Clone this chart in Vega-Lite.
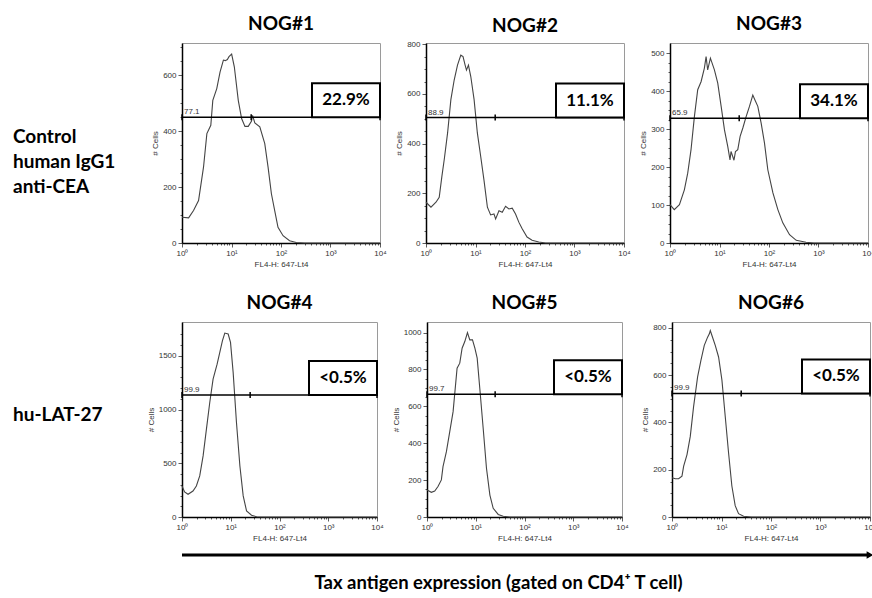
{
  "$schema": "https://vega.github.io/schema/vega-lite/v6.json",
  "background": "white",
  "padding": {"left": 13, "top": 14, "right": 0, "bottom": 0},
  "config": {
    "font": "Liberation Sans",
    "view": {"stroke": "#9a9a9a", "strokeWidth": 1},
    "axis": {"domainColor": "#000", "domainWidth": 1.5, "tickColor": "#333", "tickWidth": 0.8, "labelColor": "#333", "labelFont": "Liberation Sans", "labelFontSize": 8, "titleFont": "Liberation Sans", "titleFontSize": 8, "titleFontWeight": "normal", "titleColor": "#333", "grid": false, "labelOverlap": false, "labelFlush": false, "labelPadding": 2},
    "axisX": {"titlePadding": 3},
    "axisY": {"titlePadding": 3},
    "title": {"font": "Lato", "fontSize": 19, "fontWeight": "bold", "color": "#000", "offset": 9, "anchor": "middle"}
  },
  "datasets": {
    "hist": [
      {"panel":"NOG#1","fl4":1,"cells":92},{"panel":"NOG#1","fl4":1.36,"cells":90},{"panel":"NOG#1","fl4":1.71,"cells":116},{"panel":"NOG#1","fl4":2.16,"cells":152},{"panel":"NOG#1","fl4":2.72,"cells":271},{"panel":"NOG#1","fl4":3.18,"cells":391},{"panel":"NOG#1","fl4":3.82,"cells":421},{"panel":"NOG#1","fl4":4.19,"cells":510},{"panel":"NOG#1","fl4":5.04,"cells":552},{"panel":"NOG#1","fl4":5.88,"cells":612},{"panel":"NOG#1","fl4":6.86,"cells":654},{"panel":"NOG#1","fl4":7.5,"cells":652},{"panel":"NOG#1","fl4":8.25,"cells":656},{"panel":"NOG#1","fl4":8.9,"cells":666},{"panel":"NOG#1","fl4":10.07,"cells":675},{"panel":"NOG#1","fl4":11.4,"cells":630},{"panel":"NOG#1","fl4":13.7,"cells":510},{"panel":"NOG#1","fl4":16,"cells":445},{"panel":"NOG#1","fl4":18.7,"cells":417},{"panel":"NOG#1","fl4":21.8,"cells":417},{"panel":"NOG#1","fl4":25.4,"cells":436},{"panel":"NOG#1","fl4":26.6,"cells":456},{"panel":"NOG#1","fl4":29.6,"cells":429},{"panel":"NOG#1","fl4":37.3,"cells":415},{"panel":"NOG#1","fl4":47,"cells":355},{"panel":"NOG#1","fl4":54.8,"cells":271},{"panel":"NOG#1","fl4":64,"cells":176},{"panel":"NOG#1","fl4":74.6,"cells":116},{"panel":"NOG#1","fl4":87,"cells":56},{"panel":"NOG#1","fl4":110,"cells":26},{"panel":"NOG#1","fl4":149,"cells":8},{"panel":"NOG#1","fl4":203,"cells":2},{"panel":"NOG#1","fl4":300,"cells":0},{"panel":"NOG#1","fl4":10000,"cells":0},
      {"panel":"NOG#2","fl4":1,"cells":164},{"panel":"NOG#2","fl4":1.26,"cells":144},{"panel":"NOG#2","fl4":1.59,"cells":164},{"panel":"NOG#2","fl4":1.85,"cells":184},{"panel":"NOG#2","fl4":2.1,"cells":270},{"panel":"NOG#2","fl4":2.34,"cells":337},{"panel":"NOG#2","fl4":2.73,"cells":443},{"panel":"NOG#2","fl4":3.18,"cells":577},{"panel":"NOG#2","fl4":3.71,"cells":656},{"panel":"NOG#2","fl4":4.33,"cells":716},{"panel":"NOG#2","fl4":5.05,"cells":756},{"panel":"NOG#2","fl4":5.6,"cells":750},{"panel":"NOG#2","fl4":6.17,"cells":716},{"panel":"NOG#2","fl4":6.57,"cells":696},{"panel":"NOG#2","fl4":7.2,"cells":716},{"panel":"NOG#2","fl4":8.03,"cells":670},{"panel":"NOG#2","fl4":9.37,"cells":577},{"panel":"NOG#2","fl4":10.9,"cells":443},{"panel":"NOG#2","fl4":12.7,"cells":350},{"panel":"NOG#2","fl4":14.9,"cells":250},{"panel":"NOG#2","fl4":17.4,"cells":144},{"panel":"NOG#2","fl4":20.2,"cells":113},{"panel":"NOG#2","fl4":23.6,"cells":117},{"panel":"NOG#2","fl4":25.5,"cells":97},{"panel":"NOG#2","fl4":29.8,"cells":130},{"panel":"NOG#2","fl4":34.7,"cells":124},{"panel":"NOG#2","fl4":40.5,"cells":148},{"panel":"NOG#2","fl4":47.3,"cells":137},{"panel":"NOG#2","fl4":55.2,"cells":140},{"panel":"NOG#2","fl4":64.4,"cells":117},{"panel":"NOG#2","fl4":75,"cells":84},{"panel":"NOG#2","fl4":87.7,"cells":57},{"panel":"NOG#2","fl4":110,"cells":24},{"panel":"NOG#2","fl4":139,"cells":11},{"panel":"NOG#2","fl4":190,"cells":4},{"panel":"NOG#2","fl4":260,"cells":0},{"panel":"NOG#2","fl4":10000,"cells":0},
      {"panel":"NOG#3","fl4":1,"cells":101},{"panel":"NOG#3","fl4":1.22,"cells":88},{"panel":"NOG#3","fl4":1.55,"cells":101},{"panel":"NOG#3","fl4":1.95,"cells":140},{"panel":"NOG#3","fl4":2.28,"cells":184},{"panel":"NOG#3","fl4":2.66,"cells":246},{"panel":"NOG#3","fl4":3.11,"cells":333},{"panel":"NOG#3","fl4":3.63,"cells":404},{"panel":"NOG#3","fl4":4.24,"cells":425},{"panel":"NOG#3","fl4":4.95,"cells":461},{"panel":"NOG#3","fl4":5.36,"cells":491},{"panel":"NOG#3","fl4":5.77,"cells":456},{"panel":"NOG#3","fl4":6.55,"cells":487},{"panel":"NOG#3","fl4":7.89,"cells":456},{"panel":"NOG#3","fl4":9.22,"cells":421},{"panel":"NOG#3","fl4":10.8,"cells":360},{"panel":"NOG#3","fl4":12.6,"cells":298},{"panel":"NOG#3","fl4":14.7,"cells":254},{"panel":"NOG#3","fl4":16.3,"cells":219},{"panel":"NOG#3","fl4":17.1,"cells":241},{"panel":"NOG#3","fl4":18.5,"cells":228},{"panel":"NOG#3","fl4":19.6,"cells":218},{"panel":"NOG#3","fl4":21,"cells":241},{"panel":"NOG#3","fl4":23.4,"cells":246},{"panel":"NOG#3","fl4":26.1,"cells":281},{"panel":"NOG#3","fl4":29.6,"cells":303},{"panel":"NOG#3","fl4":34.5,"cells":333},{"panel":"NOG#3","fl4":40.3,"cells":360},{"panel":"NOG#3","fl4":47.1,"cells":390},{"panel":"NOG#3","fl4":52,"cells":377},{"panel":"NOG#3","fl4":59.4,"cells":360},{"panel":"NOG#3","fl4":69.4,"cells":316},{"panel":"NOG#3","fl4":81.1,"cells":263},{"panel":"NOG#3","fl4":94.6,"cells":193},{"panel":"NOG#3","fl4":120,"cells":132},{"panel":"NOG#3","fl4":151,"cells":88},{"panel":"NOG#3","fl4":190,"cells":53},{"panel":"NOG#3","fl4":260,"cells":22},{"panel":"NOG#3","fl4":355,"cells":7},{"panel":"NOG#3","fl4":560,"cells":2},{"panel":"NOG#3","fl4":800,"cells":0},{"panel":"NOG#3","fl4":10000,"cells":0},
      {"panel":"NOG#4","fl4":1,"cells":289},{"panel":"NOG#4","fl4":1.13,"cells":233},{"panel":"NOG#4","fl4":1.33,"cells":211},{"panel":"NOG#4","fl4":1.68,"cells":242},{"panel":"NOG#4","fl4":1.97,"cells":289},{"panel":"NOG#4","fl4":2.31,"cells":382},{"panel":"NOG#4","fl4":2.71,"cells":568},{"panel":"NOG#4","fl4":3.17,"cells":817},{"panel":"NOG#4","fl4":3.71,"cells":1065},{"panel":"NOG#4","fl4":4.34,"cells":1283},{"panel":"NOG#4","fl4":5.25,"cells":1422},{"panel":"NOG#4","fl4":5.96,"cells":1531},{"panel":"NOG#4","fl4":6.76,"cells":1640},{"panel":"NOG#4","fl4":7.55,"cells":1711},{"panel":"NOG#4","fl4":8.85,"cells":1702},{"panel":"NOG#4","fl4":9.89,"cells":1624},{"panel":"NOG#4","fl4":11.2,"cells":1345},{"panel":"NOG#4","fl4":13.1,"cells":879},{"panel":"NOG#4","fl4":15.4,"cells":475},{"panel":"NOG#4","fl4":18,"cells":196},{"panel":"NOG#4","fl4":21.1,"cells":56},{"panel":"NOG#4","fl4":26.7,"cells":16},{"panel":"NOG#4","fl4":34,"cells":3},{"panel":"NOG#4","fl4":50,"cells":0},{"panel":"NOG#4","fl4":10000,"cells":0},
      {"panel":"NOG#5","fl4":1,"cells":146},{"panel":"NOG#5","fl4":1.23,"cells":134},{"panel":"NOG#5","fl4":1.44,"cells":141},{"panel":"NOG#5","fl4":1.68,"cells":165},{"panel":"NOG#5","fl4":1.97,"cells":201},{"panel":"NOG#5","fl4":2.13,"cells":273},{"panel":"NOG#5","fl4":2.5,"cells":354},{"panel":"NOG#5","fl4":2.93,"cells":463},{"panel":"NOG#5","fl4":3.43,"cells":571},{"panel":"NOG#5","fl4":4.14,"cells":807},{"panel":"NOG#5","fl4":4.7,"cells":834},{"panel":"NOG#5","fl4":5.25,"cells":915},{"panel":"NOG#5","fl4":5.96,"cells":951},{"panel":"NOG#5","fl4":6.76,"cells":1000},{"panel":"NOG#5","fl4":7.55,"cells":960},{"panel":"NOG#5","fl4":8.57,"cells":960},{"panel":"NOG#5","fl4":9.6,"cells":915},{"panel":"NOG#5","fl4":10.7,"cells":861},{"panel":"NOG#5","fl4":12.1,"cells":698},{"panel":"NOG#5","fl4":14.2,"cells":481},{"panel":"NOG#5","fl4":16.6,"cells":264},{"panel":"NOG#5","fl4":19.5,"cells":119},{"panel":"NOG#5","fl4":22.8,"cells":47},{"panel":"NOG#5","fl4":28.9,"cells":14},{"panel":"NOG#5","fl4":36.6,"cells":4},{"panel":"NOG#5","fl4":50,"cells":0},{"panel":"NOG#5","fl4":10000,"cells":0},
      {"panel":"NOG#6","fl4":1,"cells":166},{"panel":"NOG#6","fl4":1.17,"cells":162},{"panel":"NOG#6","fl4":1.36,"cells":162},{"panel":"NOG#6","fl4":1.59,"cells":173},{"panel":"NOG#6","fl4":1.72,"cells":215},{"panel":"NOG#6","fl4":2.01,"cells":264},{"panel":"NOG#6","fl4":2.34,"cells":341},{"panel":"NOG#6","fl4":2.73,"cells":467},{"panel":"NOG#6","fl4":3.29,"cells":593},{"panel":"NOG#6","fl4":3.84,"cells":663},{"panel":"NOG#6","fl4":4.49,"cells":726},{"panel":"NOG#6","fl4":5.24,"cells":761},{"panel":"NOG#6","fl4":5.68,"cells":775},{"panel":"NOG#6","fl4":5.94,"cells":789},{"panel":"NOG#6","fl4":6.41,"cells":768},{"panel":"NOG#6","fl4":7.48,"cells":726},{"panel":"NOG#6","fl4":8.73,"cells":677},{"panel":"NOG#6","fl4":10.2,"cells":579},{"panel":"NOG#6","fl4":11.9,"cells":425},{"panel":"NOG#6","fl4":13.9,"cells":271},{"panel":"NOG#6","fl4":16.2,"cells":131},{"panel":"NOG#6","fl4":18.9,"cells":48},{"panel":"NOG#6","fl4":22.1,"cells":14},{"panel":"NOG#6","fl4":28,"cells":3},{"panel":"NOG#6","fl4":40,"cells":0},{"panel":"NOG#6","fl4":10000,"cells":0}
    ],
    "gates": [
      {"panel":"NOG#1","cells":450,"fl4":1,"split":25,"fl4_end":10000,"inside":"77.1","outside":"22.9%"},
      {"panel":"NOG#2","cells":505,"fl4":1,"split":25,"fl4_end":10000,"inside":"88.9","outside":"11.1%"},
      {"panel":"NOG#3","cells":329,"fl4":1,"split":25,"fl4_end":10000,"inside":"65.9","outside":"34.1%"},
      {"panel":"NOG#4","cells":1134,"fl4":1,"split":25,"fl4_end":10000,"inside":"99.9","outside":"<0.5%"},
      {"panel":"NOG#5","cells":665,"fl4":1,"split":25,"fl4_end":10000,"inside":"99.7","outside":"<0.5%"},
      {"panel":"NOG#6","cells":523,"fl4":1,"split":25,"fl4_end":10000,"inside":"99.9","outside":"<0.5%"}
    ]
  },
  "vconcat": [
    {
      "spacing": 24,
      "vconcat": [
        {
          "bounds": "flush",
          "spacing": 46,
          "hconcat": [
            {
              "width": 123, "height": 200, "view": {"stroke": null},
              "data": {"values": [{"label": "Control\nhuman IgG1\nanti-CEA"}]},
              "mark": {"type": "text", "align": "left", "baseline": "alphabetic", "lineBreak": "\n", "lineHeight": 25, "font": "Lato", "fontSize": 19, "fontWeight": "bold", "color": "#000"},
              "encoding": {
                "text": {"field": "label", "type": "nominal"},
                "x": {"datum": 0, "type": "quantitative", "scale": {"domain": [0, 1]}, "axis": null},
                "y": {"datum": 0.5, "type": "quantitative", "scale": {"domain": [0, 1]}, "axis": null}
              }
            },
            {
              "width": 198, "height": 200, "title": "NOG#1",
              "encoding": {
                "x": {"field": "fl4", "type": "quantitative", "scale": {"type": "log", "domain": [1, 10000], "nice": false},
                      "axis": {"title": "FL4-H: 647-Lt4", "labelOverlap": false, "values": [1,2,3,4,5,6,7,8,9,10,20,30,40,50,60,70,80,90,100,200,300,400,500,600,700,800,900,1000,2000,3000,4000,5000,6000,7000,8000,9000,10000],
                               "labelExpr": "datum.value == 1 ? '10⁰' : datum.value == 10 ? '10¹' : datum.value == 100 ? '10²' : datum.value == 1000 ? '10³' : datum.value == 10000 ? '10⁴' : ''",
                               "tickSize": {"condition": {"test": "indexof([1,10,100,1000,10000], datum.value) >= 0", "value": 4}, "value": 2}}},
                "y": {"field": "cells", "type": "quantitative", "scale": {"domain": [0, 715], "nice": false},
                      "axis": {"title": "# Cells", "format": "d", "labelOverlap": false, "values": [0,50,100,150,200,250,300,350,400,450,500,550,600,650,700],
                               "labelExpr": "datum.value % 200 == 0 ? datum.label : ''",
                               "tickSize": {"condition": {"test": "datum.value % 200 == 0", "value": 4}, "value": 2}}}
              },
              "layer": [
                {"data": {"name": "hist"}, "transform": [{"filter": "datum.panel === 'NOG#1'"}],
                 "mark": {"type": "line", "color": "#444", "strokeWidth": 1.1}},
                {"data": {"name": "gates"}, "transform": [{"filter": "datum.panel === 'NOG#1'"}],
                 "mark": {"type": "rule", "color": "#000", "strokeWidth": 1.5},
                 "encoding": {"x2": {"field": "fl4_end"}}},
                {"data": {"name": "gates"}, "transform": [{"filter": "datum.panel === 'NOG#1'"}, {"fold": ["fl4", "split", "fl4_end"], "as": ["edge", "fl4"]}],
                 "mark": {"type": "point", "shape": "M0,-1V1", "size": 36, "filled": false, "color": "#000", "strokeWidth": 1.5, "opacity": 1}},
                {"data": {"name": "gates"}, "transform": [{"filter": "datum.panel === 'NOG#1'"}],
                 "mark": {"type": "text", "align": "left", "baseline": "bottom", "dx": 2, "dy": -1, "fontSize": 8, "color": "#333"},
                 "encoding": {"text": {"field": "inside", "type": "nominal"}}},
                {"data": {"name": "gates"}, "transform": [{"filter": "datum.panel === 'NOG#1'"}, {"fold": ["fl4_end"], "as": ["edge", "fl4"]}],
                 "mark": {"type": "point", "shape": "M-2,-1H0V0H-2Z", "size": 4624, "filled": true, "fill": "#fff", "stroke": "#000", "strokeWidth": 2, "opacity": 1}},
                {"data": {"name": "gates"}, "transform": [{"filter": "datum.panel === 'NOG#1'"}, {"fold": ["fl4_end"], "as": ["edge", "fl4"]}],
                 "mark": {"type": "text", "align": "center", "baseline": "middle", "dx": -34, "dy": -17, "font": "Lato", "fontSize": 17, "fontWeight": "bold", "color": "#000"},
                 "encoding": {"text": {"field": "outside", "type": "nominal"}}}
              ]
            },
            {
              "width": 198, "height": 200, "title": {"text": "NOG#2", "offset": 4},
              "encoding": {
                "x": {"field": "fl4", "type": "quantitative", "scale": {"type": "log", "domain": [1, 10000], "nice": false},
                      "axis": {"title": "FL4-H: 647-Lt4", "labelOverlap": false, "values": [1,2,3,4,5,6,7,8,9,10,20,30,40,50,60,70,80,90,100,200,300,400,500,600,700,800,900,1000,2000,3000,4000,5000,6000,7000,8000,9000,10000],
                               "labelExpr": "datum.value == 1 ? '10⁰' : datum.value == 10 ? '10¹' : datum.value == 100 ? '10²' : datum.value == 1000 ? '10³' : datum.value == 10000 ? '10⁴' : ''",
                               "tickSize": {"condition": {"test": "indexof([1,10,100,1000,10000], datum.value) >= 0", "value": 4}, "value": 2}}},
                "y": {"field": "cells", "type": "quantitative", "scale": {"domain": [0, 805], "nice": false},
                      "axis": {"title": "# Cells", "format": "d", "labelOverlap": false, "values": [0,50,100,150,200,250,300,350,400,450,500,550,600,650,700,750,800],
                               "labelExpr": "datum.value % 200 == 0 ? datum.label : ''",
                               "tickSize": {"condition": {"test": "datum.value % 200 == 0", "value": 4}, "value": 2}}}
              },
              "layer": [
                {"data": {"name": "hist"}, "transform": [{"filter": "datum.panel === 'NOG#2'"}],
                 "mark": {"type": "line", "color": "#444", "strokeWidth": 1.1}},
                {"data": {"name": "gates"}, "transform": [{"filter": "datum.panel === 'NOG#2'"}],
                 "mark": {"type": "rule", "color": "#000", "strokeWidth": 1.5},
                 "encoding": {"x2": {"field": "fl4_end"}}},
                {"data": {"name": "gates"}, "transform": [{"filter": "datum.panel === 'NOG#2'"}, {"fold": ["fl4", "split", "fl4_end"], "as": ["edge", "fl4"]}],
                 "mark": {"type": "point", "shape": "M0,-1V1", "size": 36, "filled": false, "color": "#000", "strokeWidth": 1.5, "opacity": 1}},
                {"data": {"name": "gates"}, "transform": [{"filter": "datum.panel === 'NOG#2'"}],
                 "mark": {"type": "text", "align": "left", "baseline": "bottom", "dx": 2, "dy": -1, "fontSize": 8, "color": "#333"},
                 "encoding": {"text": {"field": "inside", "type": "nominal"}}},
                {"data": {"name": "gates"}, "transform": [{"filter": "datum.panel === 'NOG#2'"}, {"fold": ["fl4_end"], "as": ["edge", "fl4"]}],
                 "mark": {"type": "point", "shape": "M-2,-1H0V0H-2Z", "size": 4624, "filled": true, "fill": "#fff", "stroke": "#000", "strokeWidth": 2, "opacity": 1}},
                {"data": {"name": "gates"}, "transform": [{"filter": "datum.panel === 'NOG#2'"}, {"fold": ["fl4_end"], "as": ["edge", "fl4"]}],
                 "mark": {"type": "text", "align": "center", "baseline": "middle", "dx": -34, "dy": -17, "font": "Lato", "fontSize": 17, "fontWeight": "bold", "color": "#000"},
                 "encoding": {"text": {"field": "outside", "type": "nominal"}}}
              ]
            },
            {
              "width": 198, "height": 200, "title": "NOG#3",
              "encoding": {
                "x": {"field": "fl4", "type": "quantitative", "scale": {"type": "log", "domain": [1, 10000], "nice": false},
                      "axis": {"title": "FL4-H: 647-Lt4", "labelOverlap": false, "values": [1,2,3,4,5,6,7,8,9,10,20,30,40,50,60,70,80,90,100,200,300,400,500,600,700,800,900,1000,2000,3000,4000,5000,6000,7000,8000,9000,10000],
                               "labelExpr": "datum.value == 1 ? '10⁰' : datum.value == 10 ? '10¹' : datum.value == 100 ? '10²' : datum.value == 1000 ? '10³' : datum.value == 10000 ? '10⁴' : ''",
                               "tickSize": {"condition": {"test": "indexof([1,10,100,1000,10000], datum.value) >= 0", "value": 4}, "value": 2}}},
                "y": {"field": "cells", "type": "quantitative", "scale": {"domain": [0, 527], "nice": false},
                      "axis": {"title": "# Cells", "format": "d", "labelOverlap": false, "values": [0,25,50,75,100,125,150,175,200,225,250,275,300,325,350,375,400,425,450,475,500],
                               "labelExpr": "datum.value % 100 == 0 ? datum.label : ''",
                               "tickSize": {"condition": {"test": "datum.value % 100 == 0", "value": 4}, "value": 2}}}
              },
              "layer": [
                {"data": {"name": "hist"}, "transform": [{"filter": "datum.panel === 'NOG#3'"}],
                 "mark": {"type": "line", "color": "#444", "strokeWidth": 1.1}},
                {"data": {"name": "gates"}, "transform": [{"filter": "datum.panel === 'NOG#3'"}],
                 "mark": {"type": "rule", "color": "#000", "strokeWidth": 1.5},
                 "encoding": {"x2": {"field": "fl4_end"}}},
                {"data": {"name": "gates"}, "transform": [{"filter": "datum.panel === 'NOG#3'"}, {"fold": ["fl4", "split", "fl4_end"], "as": ["edge", "fl4"]}],
                 "mark": {"type": "point", "shape": "M0,-1V1", "size": 36, "filled": false, "color": "#000", "strokeWidth": 1.5, "opacity": 1}},
                {"data": {"name": "gates"}, "transform": [{"filter": "datum.panel === 'NOG#3'"}],
                 "mark": {"type": "text", "align": "left", "baseline": "bottom", "dx": 2, "dy": -1, "fontSize": 8, "color": "#333"},
                 "encoding": {"text": {"field": "inside", "type": "nominal"}}},
                {"data": {"name": "gates"}, "transform": [{"filter": "datum.panel === 'NOG#3'"}, {"fold": ["fl4_end"], "as": ["edge", "fl4"]}],
                 "mark": {"type": "point", "shape": "M-2,-1H0V0H-2Z", "size": 4624, "filled": true, "fill": "#fff", "stroke": "#000", "strokeWidth": 2, "opacity": 1}},
                {"data": {"name": "gates"}, "transform": [{"filter": "datum.panel === 'NOG#3'"}, {"fold": ["fl4_end"], "as": ["edge", "fl4"]}],
                 "mark": {"type": "text", "align": "center", "baseline": "middle", "dx": -34, "dy": -17, "font": "Lato", "fontSize": 17, "fontWeight": "bold", "color": "#000"},
                 "encoding": {"text": {"field": "outside", "type": "nominal"}}}
              ]
            }
          ]
        },
        {
          "bounds": "flush",
          "spacing": 50,
          "hconcat": [
            {
              "width": 119, "height": 195, "view": {"stroke": null},
              "data": {"values": [{"label": "hu-LAT-27"}]},
              "mark": {"type": "text", "align": "left", "baseline": "alphabetic", "font": "Lato", "fontSize": 19, "fontWeight": "bold", "color": "#000"},
              "encoding": {
                "text": {"field": "label", "type": "nominal"},
                "x": {"datum": 0, "type": "quantitative", "scale": {"domain": [0, 1]}, "axis": null},
                "y": {"datum": 0.49, "type": "quantitative", "scale": {"domain": [0, 1]}, "axis": null}
              }
            },
            {
              "width": 195, "height": 195, "title": "NOG#4",
              "encoding": {
                "x": {"field": "fl4", "type": "quantitative", "scale": {"type": "log", "domain": [1, 10000], "nice": false},
                      "axis": {"title": "FL4-H: 647-Lt4", "labelOverlap": false, "values": [1,2,3,4,5,6,7,8,9,10,20,30,40,50,60,70,80,90,100,200,300,400,500,600,700,800,900,1000,2000,3000,4000,5000,6000,7000,8000,9000,10000],
                               "labelExpr": "datum.value == 1 ? '10⁰' : datum.value == 10 ? '10¹' : datum.value == 100 ? '10²' : datum.value == 1000 ? '10³' : datum.value == 10000 ? '10⁴' : ''",
                               "tickSize": {"condition": {"test": "indexof([1,10,100,1000,10000], datum.value) >= 0", "value": 4}, "value": 2}}},
                "y": {"field": "cells", "type": "quantitative", "scale": {"domain": [0, 1814], "nice": false},
                      "axis": {"title": "# Cells", "format": "d", "labelOverlap": false, "values": [0,100,200,300,400,500,600,700,800,900,1000,1100,1200,1300,1400,1500,1600,1700],
                               "labelExpr": "datum.value % 500 == 0 ? datum.label : ''",
                               "tickSize": {"condition": {"test": "datum.value % 500 == 0", "value": 4}, "value": 2}}}
              },
              "layer": [
                {"data": {"name": "hist"}, "transform": [{"filter": "datum.panel === 'NOG#4'"}],
                 "mark": {"type": "line", "color": "#444", "strokeWidth": 1.1}},
                {"data": {"name": "gates"}, "transform": [{"filter": "datum.panel === 'NOG#4'"}],
                 "mark": {"type": "rule", "color": "#000", "strokeWidth": 1.5},
                 "encoding": {"x2": {"field": "fl4_end"}}},
                {"data": {"name": "gates"}, "transform": [{"filter": "datum.panel === 'NOG#4'"}, {"fold": ["fl4", "split", "fl4_end"], "as": ["edge", "fl4"]}],
                 "mark": {"type": "point", "shape": "M0,-1V1", "size": 36, "filled": false, "color": "#000", "strokeWidth": 1.5, "opacity": 1}},
                {"data": {"name": "gates"}, "transform": [{"filter": "datum.panel === 'NOG#4'"}],
                 "mark": {"type": "text", "align": "left", "baseline": "bottom", "dx": 2, "dy": -1, "fontSize": 8, "color": "#333"},
                 "encoding": {"text": {"field": "inside", "type": "nominal"}}},
                {"data": {"name": "gates"}, "transform": [{"filter": "datum.panel === 'NOG#4'"}, {"fold": ["fl4_end"], "as": ["edge", "fl4"]}],
                 "mark": {"type": "point", "shape": "M-2,-1H0V0H-2Z", "size": 4624, "filled": true, "fill": "#fff", "stroke": "#000", "strokeWidth": 2, "opacity": 1}},
                {"data": {"name": "gates"}, "transform": [{"filter": "datum.panel === 'NOG#4'"}, {"fold": ["fl4_end"], "as": ["edge", "fl4"]}],
                 "mark": {"type": "text", "align": "center", "baseline": "middle", "dx": -34, "dy": -17, "font": "Lato", "fontSize": 17, "fontWeight": "bold", "color": "#000"},
                 "encoding": {"text": {"field": "outside", "type": "nominal"}}}
              ]
            },
            {
              "width": 195, "height": 195, "title": "NOG#5",
              "encoding": {
                "x": {"field": "fl4", "type": "quantitative", "scale": {"type": "log", "domain": [1, 10000], "nice": false},
                      "axis": {"title": "FL4-H: 647-Lt4", "labelOverlap": false, "values": [1,2,3,4,5,6,7,8,9,10,20,30,40,50,60,70,80,90,100,200,300,400,500,600,700,800,900,1000,2000,3000,4000,5000,6000,7000,8000,9000,10000],
                               "labelExpr": "datum.value == 1 ? '10⁰' : datum.value == 10 ? '10¹' : datum.value == 100 ? '10²' : datum.value == 1000 ? '10³' : datum.value == 10000 ? '10⁴' : ''",
                               "tickSize": {"condition": {"test": "indexof([1,10,100,1000,10000], datum.value) >= 0", "value": 4}, "value": 2}}},
                "y": {"field": "cells", "type": "quantitative", "scale": {"domain": [0, 1057], "nice": false},
                      "axis": {"title": "# Cells", "format": "d", "labelOverlap": false, "values": [0,50,100,150,200,250,300,350,400,450,500,550,600,650,700,750,800,850,900,950,1000],
                               "labelExpr": "datum.value % 200 == 0 ? datum.label : ''",
                               "tickSize": {"condition": {"test": "datum.value % 200 == 0", "value": 4}, "value": 2}}}
              },
              "layer": [
                {"data": {"name": "hist"}, "transform": [{"filter": "datum.panel === 'NOG#5'"}],
                 "mark": {"type": "line", "color": "#444", "strokeWidth": 1.1}},
                {"data": {"name": "gates"}, "transform": [{"filter": "datum.panel === 'NOG#5'"}],
                 "mark": {"type": "rule", "color": "#000", "strokeWidth": 1.5},
                 "encoding": {"x2": {"field": "fl4_end"}}},
                {"data": {"name": "gates"}, "transform": [{"filter": "datum.panel === 'NOG#5'"}, {"fold": ["fl4", "split", "fl4_end"], "as": ["edge", "fl4"]}],
                 "mark": {"type": "point", "shape": "M0,-1V1", "size": 36, "filled": false, "color": "#000", "strokeWidth": 1.5, "opacity": 1}},
                {"data": {"name": "gates"}, "transform": [{"filter": "datum.panel === 'NOG#5'"}],
                 "mark": {"type": "text", "align": "left", "baseline": "bottom", "dx": 2, "dy": -1, "fontSize": 8, "color": "#333"},
                 "encoding": {"text": {"field": "inside", "type": "nominal"}}},
                {"data": {"name": "gates"}, "transform": [{"filter": "datum.panel === 'NOG#5'"}, {"fold": ["fl4_end"], "as": ["edge", "fl4"]}],
                 "mark": {"type": "point", "shape": "M-2,-1H0V0H-2Z", "size": 4624, "filled": true, "fill": "#fff", "stroke": "#000", "strokeWidth": 2, "opacity": 1}},
                {"data": {"name": "gates"}, "transform": [{"filter": "datum.panel === 'NOG#5'"}, {"fold": ["fl4_end"], "as": ["edge", "fl4"]}],
                 "mark": {"type": "text", "align": "center", "baseline": "middle", "dx": -34, "dy": -17, "font": "Lato", "fontSize": 17, "fontWeight": "bold", "color": "#000"},
                 "encoding": {"text": {"field": "outside", "type": "nominal"}}}
              ]
            },
            {
              "width": 198, "height": 195, "title": "NOG#6",
              "encoding": {
                "x": {"field": "fl4", "type": "quantitative", "scale": {"type": "log", "domain": [1, 10000], "nice": false},
                      "axis": {"title": "FL4-H: 647-Lt4", "labelOverlap": false, "values": [1,2,3,4,5,6,7,8,9,10,20,30,40,50,60,70,80,90,100,200,300,400,500,600,700,800,900,1000,2000,3000,4000,5000,6000,7000,8000,9000,10000],
                               "labelExpr": "datum.value == 1 ? '10⁰' : datum.value == 10 ? '10¹' : datum.value == 100 ? '10²' : datum.value == 1000 ? '10³' : datum.value == 10000 ? '10⁴' : ''",
                               "tickSize": {"condition": {"test": "indexof([1,10,100,1000,10000], datum.value) >= 0", "value": 4}, "value": 2}}},
                "y": {"field": "cells", "type": "quantitative", "scale": {"domain": [0, 825], "nice": false},
                      "axis": {"title": "# Cells", "format": "d", "labelOverlap": false, "values": [0,50,100,150,200,250,300,350,400,450,500,550,600,650,700,750,800],
                               "labelExpr": "datum.value % 200 == 0 ? datum.label : ''",
                               "tickSize": {"condition": {"test": "datum.value % 200 == 0", "value": 4}, "value": 2}}}
              },
              "layer": [
                {"data": {"name": "hist"}, "transform": [{"filter": "datum.panel === 'NOG#6'"}],
                 "mark": {"type": "line", "color": "#444", "strokeWidth": 1.1}},
                {"data": {"name": "gates"}, "transform": [{"filter": "datum.panel === 'NOG#6'"}],
                 "mark": {"type": "rule", "color": "#000", "strokeWidth": 1.5},
                 "encoding": {"x2": {"field": "fl4_end"}}},
                {"data": {"name": "gates"}, "transform": [{"filter": "datum.panel === 'NOG#6'"}, {"fold": ["fl4", "split", "fl4_end"], "as": ["edge", "fl4"]}],
                 "mark": {"type": "point", "shape": "M0,-1V1", "size": 36, "filled": false, "color": "#000", "strokeWidth": 1.5, "opacity": 1}},
                {"data": {"name": "gates"}, "transform": [{"filter": "datum.panel === 'NOG#6'"}],
                 "mark": {"type": "text", "align": "left", "baseline": "bottom", "dx": 2, "dy": -1, "fontSize": 8, "color": "#333"},
                 "encoding": {"text": {"field": "inside", "type": "nominal"}}},
                {"data": {"name": "gates"}, "transform": [{"filter": "datum.panel === 'NOG#6'"}, {"fold": ["fl4_end"], "as": ["edge", "fl4"]}],
                 "mark": {"type": "point", "shape": "M-2,-1H0V0H-2Z", "size": 4624, "filled": true, "fill": "#fff", "stroke": "#000", "strokeWidth": 2, "opacity": 1}},
                {"data": {"name": "gates"}, "transform": [{"filter": "datum.panel === 'NOG#6'"}, {"fold": ["fl4_end"], "as": ["edge", "fl4"]}],
                 "mark": {"type": "text", "align": "center", "baseline": "middle", "dx": -34, "dy": -17, "font": "Lato", "fontSize": 17, "fontWeight": "bold", "color": "#000"},
                 "encoding": {"text": {"field": "outside", "type": "nominal"}}}
              ]
            }
          ]
        }
      ]
    },
    {
      "bounds": "flush",
      "spacing": 46,
      "hconcat": [
        {
          "width": 123, "height": 40, "view": {"stroke": null},
          "data": {"values": [{"label": ""}]},
          "mark": {"type": "text"},
          "encoding": {"text": {"field": "label", "type": "nominal"}}
        },
        {
          "width": 688, "height": 40, "view": {"stroke": null},
          "data": {"values": [{"caption": "Tax antigen expression (gated on CD4⁺ T cell)"}]},
          "layer": [
            {"mark": {"type": "rule", "color": "#000", "strokeWidth": 3},
             "encoding": {"x": {"datum": 0, "type": "quantitative", "scale": {"domain": [0, 1]}, "axis": null}, "x2": {"datum": 1},
                          "y": {"datum": 1, "type": "quantitative", "scale": {"domain": [0, 1]}, "axis": null}}},
            {"mark": {"type": "point", "shape": "triangle-right", "size": 60, "filled": true, "color": "#000", "opacity": 1},
             "encoding": {"x": {"datum": 1, "type": "quantitative", "scale": {"domain": [0, 1]}, "axis": null},
                          "y": {"datum": 1, "type": "quantitative", "scale": {"domain": [0, 1]}, "axis": null}}},
            {"mark": {"type": "text", "align": "center", "baseline": "alphabetic", "font": "Lato", "fontSize": 18.5, "fontWeight": "bold", "color": "#000"},
             "encoding": {"x": {"datum": 0.46, "type": "quantitative", "scale": {"domain": [0, 1]}, "axis": null},
                          "y": {"datum": 0.15, "type": "quantitative", "scale": {"domain": [0, 1]}, "axis": null},
                          "text": {"field": "caption", "type": "nominal"}}}
          ]
        }
      ]
    }
  ],
  "spacing": 8
}
